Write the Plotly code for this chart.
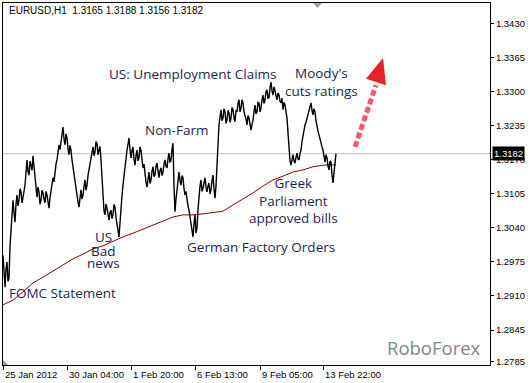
import plotly.graph_objects as go

# ---------------- data ----------------
# hourly closes, one per bar (last value = last close)
close_prices = [
    1.2988, 1.2950, 1.2927, 1.2962, 1.2975, 1.2938, 1.2944, 1.3005, 1.3036, 1.3060,
    1.3093, 1.3070, 1.3051, 1.3085, 1.3103, 1.3082, 1.3093, 1.3115, 1.3109, 1.3088,
    1.3097, 1.3110, 1.3122, 1.3150, 1.3170, 1.3148, 1.3141, 1.3168, 1.3160, 1.3150,
    1.3178, 1.3160, 1.3136, 1.3115, 1.3099, 1.3118, 1.3109, 1.3085, 1.3093, 1.3112,
    1.3107, 1.3095, 1.3088, 1.3110, 1.3103, 1.3090, 1.3078, 1.3098, 1.3113, 1.3125,
    1.3136, 1.3128, 1.3151, 1.3162, 1.3170, 1.3185, 1.3199, 1.3190, 1.3208, 1.3222,
    1.3233, 1.3210, 1.3199, 1.3220, 1.3212, 1.3192, 1.3180, 1.3198, 1.3189, 1.3170,
    1.3155, 1.3145, 1.3132, 1.3118, 1.3103, 1.3090, 1.3080, 1.3098, 1.3113, 1.3095,
    1.3103, 1.3120, 1.3132, 1.3112, 1.3122, 1.3140, 1.3151, 1.3162, 1.3170, 1.3184,
    1.3195, 1.3178, 1.3185, 1.3205, 1.3202, 1.3180, 1.3189, 1.3196, 1.3170, 1.3130,
    1.3084, 1.3072, 1.3065, 1.3086, 1.3078, 1.3062, 1.3055, 1.3070, 1.3074, 1.3058,
    1.3065, 1.3085, 1.3080, 1.3060, 1.3046, 1.3040, 1.3023, 1.3050, 1.3084, 1.3102,
    1.3122, 1.3140, 1.3160, 1.3178, 1.3189, 1.3200, 1.3212, 1.3190, 1.3174, 1.3188,
    1.3195, 1.3172, 1.3160, 1.3178, 1.3189, 1.3168, 1.3174, 1.3195, 1.3189, 1.3170,
    1.3155, 1.3162, 1.3141, 1.3128, 1.3118, 1.3135, 1.3147, 1.3125, 1.3132, 1.3148,
    1.3157, 1.3138, 1.3141, 1.3158, 1.3164, 1.3148, 1.3136, 1.3150, 1.3155, 1.3140,
    1.3147, 1.3162, 1.3170, 1.3158, 1.3155, 1.3172, 1.3183, 1.3165, 1.3170, 1.3190,
    1.3202, 1.3120, 1.3071, 1.3095, 1.3113, 1.3132, 1.3147, 1.3130, 1.3122, 1.3140,
    1.3136, 1.3115, 1.3103, 1.3110, 1.3093, 1.3082, 1.3074, 1.3060, 1.3046, 1.3035,
    1.3023, 1.3048, 1.3065, 1.3030, 1.3040, 1.3075, 1.3103, 1.3120, 1.3132, 1.3110,
    1.3116, 1.3128, 1.3136, 1.3118, 1.3109, 1.3120, 1.3126, 1.3105, 1.3113, 1.3130,
    1.3141, 1.3115, 1.3097, 1.3120, 1.3151, 1.3200, 1.3237, 1.3255, 1.3266, 1.3245,
    1.3250, 1.3268, 1.3262, 1.3240, 1.3246, 1.3265, 1.3260, 1.3242, 1.3250, 1.3270,
    1.3266, 1.3250, 1.3243, 1.3265, 1.3262, 1.3278, 1.3285, 1.3262, 1.3269, 1.3285,
    1.3279, 1.3262, 1.3256, 1.3248, 1.3237, 1.3255, 1.3250, 1.3232, 1.3227, 1.3238,
    1.3246, 1.3262, 1.3275, 1.3258, 1.3262, 1.3280, 1.3279, 1.3262, 1.3269, 1.3285,
    1.3294, 1.3278, 1.3285, 1.3300, 1.3304, 1.3288, 1.3289, 1.3308, 1.3319, 1.3302,
    1.3294, 1.3310, 1.3300, 1.3290, 1.3285, 1.3298, 1.3294, 1.3282, 1.3279, 1.3288,
    1.3266, 1.3280, 1.3275, 1.3262, 1.3250, 1.3222, 1.3189, 1.3168, 1.3160, 1.3172,
    1.3180, 1.3168, 1.3164, 1.3175, 1.3183, 1.3172, 1.3170, 1.3182, 1.3189, 1.3205,
    1.3218, 1.3228, 1.3237, 1.3242, 1.3250, 1.3258, 1.3269, 1.3272, 1.3279, 1.3265,
    1.3256, 1.3268, 1.3262, 1.3245, 1.3231, 1.3225, 1.3218, 1.3208, 1.3199, 1.3195,
    1.3189, 1.3172, 1.3166, 1.3180, 1.3174, 1.3158, 1.3151, 1.3168, 1.3166, 1.3142,
    1.3126, 1.3145, 1.3160, 1.3182,
]
close_bars = list(range(len(close_prices)))

# moving average (red line), read every 10 bars
ma_prices = [
    1.2893, 1.2902, 1.2918, 1.2935, 1.2946, 1.2958, 1.2969, 1.2981, 1.2990, 1.3000,
    1.3006, 1.3015, 1.3023, 1.3030, 1.3038, 1.3046, 1.3053, 1.3061, 1.3065, 1.3065,
    1.3067, 1.3069, 1.3072, 1.3084, 1.3095, 1.3107, 1.3120, 1.3132, 1.3139, 1.3147,
    1.3151, 1.3157, 1.3160, 1.3160, 1.3161,
]
ma_bars = list(range(0, 331, 10)) + [333]

x_tick_bars = [0, 64, 128, 192, 257, 320]
x_tick_labels = ["25 Jan 2012", "30 Jan 04:00", "1 Feb 20:00", "6 Feb 13:00",
                 "9 Feb 05:00", "13 Feb 22:00"]
y_tick_values = [1.2785, 1.2845, 1.2910, 1.2975, 1.3040, 1.3105, 1.3170,
                 1.3235, 1.3300, 1.3365, 1.3430]
last_close = 1.3182
header_text = "EURUSD,H1\u00a0\u00a01.3165 1.3188 1.3156 1.3182"
watermark = "RoboForex"

# ---------------- figure ----------------
TXT = "#1b2550"
AX_FONT = dict(family="Liberation Sans", size=9.5, color="black")
EV_FONT = dict(family="Open Sans", size=13.5, color=TXT)

fig = go.Figure()
fig.add_trace(go.Scatter(x=ma_bars, y=ma_prices, mode="lines",
                         line=dict(color="#8b0000", width=1), hoverinfo="skip"))
fig.add_trace(go.Scatter(x=close_bars, y=close_prices, mode="lines",
                         line=dict(color="black", width=1.4), hoverinfo="skip"))

shapes = [
    # last price line
    dict(type="line", xref="paper", yref="y", x0=0, x1=1, y0=last_close, y1=last_close,
         line=dict(color="#c0c0c0", width=1), layer="below"),
    # dotted arrow shaft
    dict(type="line", xref="x", yref="y", x0=352, y0=1.3195, x1=373, y1=1.3313,
         line=dict(color="rgba(232,50,65,0.8)", width=5, dash="6px,3px")),
    # arrow head
    dict(type="path", xref="x", yref="y",
         path="M 380,1.3365 L 363,1.3325 L 383,1.3313 Z",
         fillcolor="#e8202c", line=dict(width=0)),
    # chart shift marker (top) and corner marker
    dict(type="path", xref="paper", yref="paper",
         path="M 0.6366,1 L 0.6550,1 L 0.6458,0.9862 Z",
         fillcolor="#a0a0a0", line=dict(width=0)),
    dict(type="path", xref="paper", yref="paper",
         path="M 0,0.0138 L 0,0 L 0.0103,0 Z",
         fillcolor="#a0a0a0", line=dict(width=0)),
]

annotations = []
for b, lab in zip(x_tick_bars, x_tick_labels):
    annotations.append(dict(x=b, y=0, xref="x", yref="paper", text=lab, showarrow=False,
                            xanchor="left", yanchor="middle", yshift=-9, xshift=0,
                            font=AX_FONT))

annotations += [
    dict(x=0, y=0.978, xref="paper", yref="paper", text=header_text, showarrow=False,
         xanchor="left", yanchor="middle", xshift=4,
         font=dict(family="Liberation Sans", size=10, color="black")),
    dict(x=1, y=last_close, xref="paper", yref="y", text="1.3182", showarrow=False,
         xanchor="left", yanchor="middle", xshift=2, bgcolor="black", borderpad=1,
         font=dict(family="Liberation Sans", size=9.5, color="white")),
    dict(x=0.9856, y=0.047, xref="paper", yref="paper", text=watermark, showarrow=False,
         xanchor="right", yanchor="middle",
         font=dict(family="Open Sans", size=18.5, color="#80868f")),
    dict(x=189, y=1.3334, text="US: Unemployment Claims", showarrow=False, font=EV_FONT),
    dict(x=318, y=1.3319, text="Moody's<br>cuts ratings", showarrow=False, font=EV_FONT),
    dict(x=173, y=1.3227, text="Non-Farm", showarrow=False, font=EV_FONT),
    dict(x=290, y=1.3093, text="Greek<br>Parliament<br>approved bills", showarrow=False, font=EV_FONT),
    dict(x=258, y=1.3004, text="German Factory Orders", showarrow=False, font=EV_FONT),
    dict(x=100, y=1.3023, text="US", showarrow=False, font=EV_FONT),
    dict(x=100, y=1.2996, text="Bad", showarrow=False, font=EV_FONT),
    dict(x=100, y=1.2973, text="news", showarrow=False, font=EV_FONT),
    dict(x=4, y=1.2916, text="FOMC Statement", showarrow=False, xanchor="left", font=EV_FONT),
]

fig.update_layout(
    width=530, height=383,
    margin=dict(l=3, r=40, t=3, b=18),
    paper_bgcolor="white", plot_bgcolor="white",
    showlegend=False,
    shapes=shapes,
    annotations=annotations,
    xaxis=dict(range=[0, 487], showgrid=False, zeroline=False, showline=True, mirror=True,
               linecolor="black", linewidth=1, ticks="outside", ticklen=4, tickcolor="black",
               tickvals=x_tick_bars, showticklabels=False, fixedrange=True),
    yaxis=dict(range=[1.27781, 1.3470], side="right", showgrid=False, zeroline=False,
               showline=True, mirror=True, linecolor="black", linewidth=1,
               ticks="outside", ticklen=3, tickcolor="black",
               tickvals=y_tick_values, ticktext=[f"{v:.4f}" for v in y_tick_values],
               tickfont=AX_FONT, fixedrange=True),
)

fig.write_html("out.html", config={"displayModeBar": False},
               post_script="document.body.style.margin='0';document.body.style.padding='0';")
